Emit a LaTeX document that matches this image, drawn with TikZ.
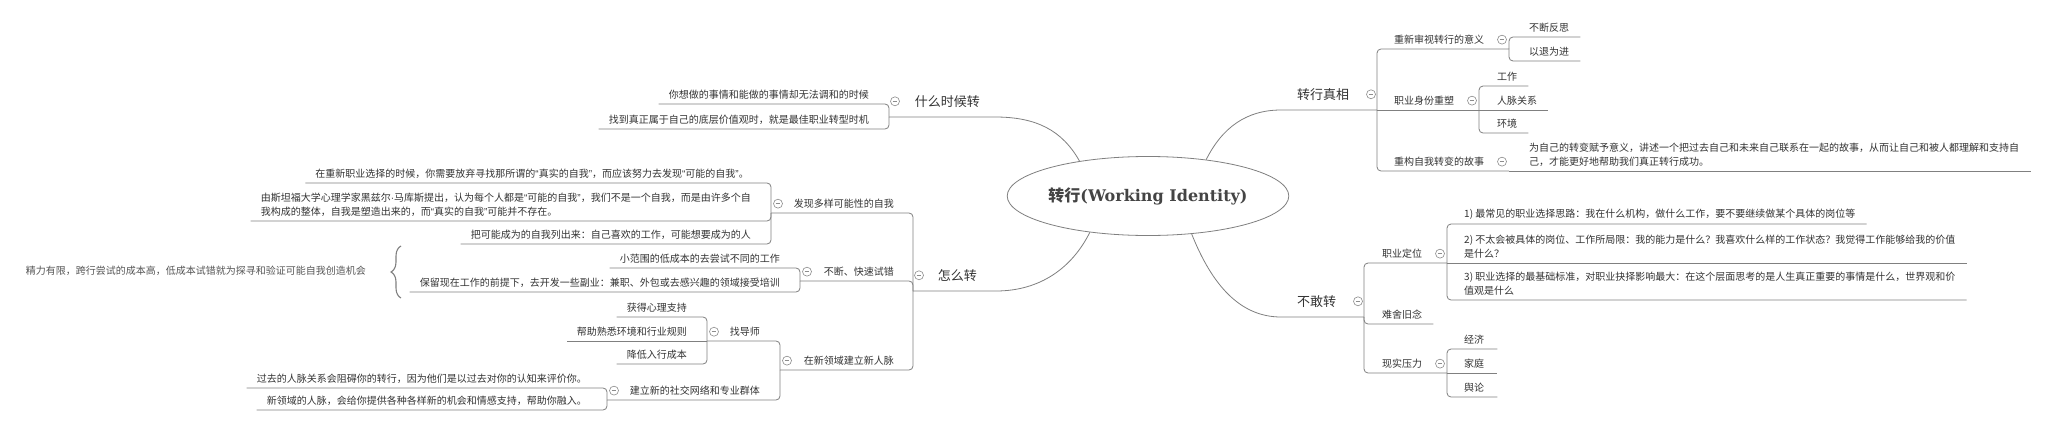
\documentclass[tikz,border=0pt]{standalone}
\usepackage{fontspec}
\setmainfont{Noto Sans CJK SC}
\newfontfamily\slab{DejaVu Serif}
\newfontfamily\latq{Liberation Sans}
\newcommand\oq{{\latq “}}
\newcommand\cq{{\latq ”}}
\newcommand\mdot{{\latq ·}}
\usetikzlibrary{shapes.geometric,decorations.pathreplacing,calc}
\definecolor{txt}{HTML}{333333}
\definecolor{ttl}{HTML}{444444}
\definecolor{lineC}{HTML}{808080}
\definecolor{iconC}{HTML}{8C8C8C}
\definecolor{noteC}{HTML}{555555}
\tikzset{
  ln/.style={draw=lineC, line width=0.8pt, rounded corners=4pt},
  cv/.style={draw=lineC, line width=0.8pt},
  t/.style={inner xsep=0pt, inner ysep=4.5pt, text=txt, font=\fontsize{10}{14}\selectfont},
  tm/.style={t, align=left},
  big/.style={inner xsep=0pt, inner ysep=9.5pt, text=txt, font=\fontsize{13}{16}\selectfont},
  icon/.style={circle, draw=iconC, fill=white, line width=0.6pt, minimum size=9pt, inner sep=0pt,
    path picture={\draw[iconC, line width=0.6pt] ([xshift=-2.3pt]path picture bounding box.center) -- ([xshift=2.3pt]path picture bounding box.center);}},
  rootnode/.style={ellipse, draw=lineC, line width=0.8pt, minimum width=272pt, minimum height=79pt, inner sep=0pt, text=ttl, font=\fontsize{16}{18}\selectfont\bfseries},
  bracestyle/.style={decorate, decoration={brace, amplitude=10pt}, draw=lineC, line width=1.1pt},
  notestyle/.style={inner sep=0pt, text=noteC, font=\fontsize{10}{14}\selectfont}
}
\newcommand\elbow[2]{\draw[ln] (#1) -- (#1 |- #2) -- (#2);}
\begin{document}
\begin{tikzpicture}[x=1pt,y=-1pt]
\useasboundingbox[fill=white] (0,0) rectangle (2046,428);

\node[rootnode] (root) at (1148,196) {转行{\slab(Working Identity)}};

% ---------- branch 1: 转行真相
\coordinate (c1) at (1281,110);
\coordinate (b1) at (1377,110);
\draw[cv] (root.32) .. controls (1222,128) and (1246,110) .. (c1) -- (b1);
\node[big, anchor=south west] (n1) at (1297,110) {转行真相};
\path (n1.center -| b1) ++(-6,0) node[icon] (i1) {};

\coordinate (b11) at (1509,49);
\node[t, anchor=south west] (n11) at (1394,49) {重新审视转行的意义};
\elbow{b1}{b11}
\path (n11.center -| b11) ++(-7,0) node[icon] (i11) {};
\node[t, anchor=south west] (n111) at (1529,37) {不断反思};
\node[t, anchor=south west] (n112) at (1529,61) {以退为进};
\coordinate (e111) at ([xshift=11pt]n111.south east);
\coordinate (e112) at ([xshift=11pt]n112.south east);
\elbow{b11}{e111}
\elbow{b11}{e112}

\coordinate (b12) at (1479,110);
\node[t, anchor=south west] (n12) at (1394,110) {职业身份重塑};
\draw[cv] (b1) -- (b12);
\path (n12.center -| b12) ++(-7,0) node[icon] (i12) {};
\node[t, anchor=south west] (n121) at (1497,86) {工作};
\node[t, anchor=south west] (n122) at (1497,110) {人脉关系};
\node[t, anchor=south west] (n123) at (1497,133) {环境};
\coordinate (e121) at ([xshift=11pt]n121.south east);
\coordinate (e123) at ([xshift=11pt]n123.south east);
\elbow{b12}{e121}
\draw[cv] (b12) -- ([xshift=11pt]n122.south east);
\elbow{b12}{e123}

\coordinate (b13) at (1509,171);
\node[t, anchor=south west] (n13) at (1394,171) {重构自我转变的故事};
\elbow{b1}{b13}
\path (n13.center -| b13) ++(-7,0) node[icon] (i13) {};
\node[tm, anchor=south west] (n131) at (1529,171) {为自己的转变赋予意义，讲述一个把过去自己和未来自己联系在一起的故事，从而让自己和被人都理解和支持自\\己，才能更好地帮助我们真正转行成功。};
\draw[cv] (b13) -- ([xshift=12pt]n131.south east);

% ---------- branch 2: 不敢转
\coordinate (c2) at (1281,317);
\coordinate (b2) at (1364,317);
\draw[cv] (root.319) .. controls (1212,285) and (1240,317) .. (c2) -- (b2);
\node[big, anchor=south west] (n2) at (1297,317) {不敢转};
\path (n2.center -| b2) ++(-6,0) node[icon] (i2) {};

\coordinate (b21) at (1447,263);
\node[t, anchor=south west] (n21) at (1382,263) {职业定位};
\elbow{b2}{b21}
\path (n21.center -| b21) ++(-7,0) node[icon] (i21) {};
\node[t, anchor=south west] (n211) at (1464,224) {1) 最常见的职业选择思路：我在什么机构，做什么工作，要不要继续做某个具体的岗位等};
\node[tm, anchor=south west] (n212) at (1464,263) {2) 不太会被具体的岗位、工作所局限：我的能力是什么？我喜欢什么样的工作状态？我觉得工作能够给我的价值\\是什么？};
\node[tm, anchor=south west] (n213) at (1464,300) {3) 职业选择的最基础标准，对职业抉择影响最大：在这个层面思考的是人生真正重要的事情是什么，世界观和价\\值观是什么};
\coordinate (e211) at ([xshift=11pt]n211.south east);
\coordinate (e213) at ([xshift=11pt]n213.south east);
\elbow{b21}{e211}
\draw[cv] (b21) -- ([xshift=11pt]n212.south east);
\elbow{b21}{e213}

\node[t, anchor=south west] (n22) at (1382,324) {难舍旧念};
\coordinate (e22) at ([xshift=11pt]n22.south east);
\elbow{b2}{e22}

\coordinate (b23) at (1447,373);
\node[t, anchor=south west] (n23) at (1382,373) {现实压力};
\elbow{b2}{b23}
\path (n23.center -| b23) ++(-7,0) node[icon] (i23) {};
\node[t, anchor=south west] (n231) at (1464,349) {经济};
\node[t, anchor=south west] (n232) at (1464,373) {家庭};
\node[t, anchor=south west] (n233) at (1464,397) {舆论};
\coordinate (e231) at ([xshift=13pt]n231.south east);
\coordinate (e233) at ([xshift=13pt]n233.south east);
\elbow{b23}{e231}
\draw[cv] (b23) -- ([xshift=13pt]n232.south east);
\elbow{b23}{e233}

% ---------- branch 3: 什么时候转
\coordinate (c3) at (995,117);
\coordinate (b3) at (889,117);
\draw[cv] (root.153) .. controls (1062,130) and (1036,117) .. (c3) -- (b3);
\node[big, anchor=south east] (n3) at (980,117) {什么时候转};
\path (n3.center -| b3) ++(6,0) node[icon] (i3) {};
\node[t, anchor=south east] (n31) at (869,104) {你想做的事情和能做的事情却无法调和的时候};
\node[t, anchor=south east] (n32) at (869,129) {找到真正属于自己的底层价值观时，就是最佳职业转型时机};
\coordinate (e31) at ([xshift=-10pt]n31.south west);
\coordinate (e32) at ([xshift=-10pt]n32.south west);
\elbow{b3}{e31}
\elbow{b3}{e32}

% ---------- branch 4: 怎么转
\coordinate (c4) at (996,291);
\coordinate (b4) at (913,291);
\draw[cv] (root.212) .. controls (1072,268) and (1040,291) .. (c4) -- (b4);
\node[big, anchor=south east] (n4) at (977,291) {怎么转};
\path (n4.center -| b4) ++(6,0) node[icon] (i4) {};

% 发现多样可能性的自我
\coordinate (b41) at (771,213);
\node[t, anchor=south east] (n41) at (894,213) {发现多样可能性的自我};
\elbow{b4}{b41}
\path (n41.center -| b41) ++(7,0) node[icon] (i41) {};
\node[t, anchor=south east] (n411) at (749,183) {在重新职业选择的时候，你需要放弃寻找那所谓的\oq 真实的自我\cq ，而应该努力去发现\oq 可能的自我\cq 。};
\node[tm, anchor=south east] (n412) at (751,221) {由斯坦福大学心理学家黑兹尔\mdot 马库斯提出，认为每个人都是\oq 可能的自我\cq ，我们不是一个自我，而是由许多个自\\我构成的整体，自我是塑造出来的，而\oq 真实的自我\cq 可能并不存在。};
\node[t, anchor=south east] (n413) at (751,244) {把可能成为的自我列出来：自己喜欢的工作，可能想要成为的人};
\coordinate (e411) at ([xshift=-10pt]n411.south west);
\coordinate (e412) at ([xshift=-10pt]n412.south west);
\coordinate (e413) at ([xshift=-10pt]n413.south west);
\elbow{b41}{e411}
\elbow{b41}{e412}
\elbow{b41}{e413}

% 不断、快速试错
\coordinate (b42) at (800,281);
\node[t, anchor=south east] (n42) at (894,281) {不断、快速试错};
\elbow{b4}{b42}
\path (n42.center -| b42) ++(7,0) node[icon] (i42) {};
\node[t, anchor=south east] (n421) at (780,268) {小范围的低成本的去尝试不同的工作};
\node[t, anchor=south east] (n422) at (780,292) {保留现在工作的前提下，去开发一些副业：兼职、外包或去感兴趣的领域接受培训};
\coordinate (e421) at ([xshift=-10pt]n421.south west);
\coordinate (e422) at ([xshift=-10pt]n422.south west);
\elbow{b42}{e421}
\elbow{b42}{e422}
\coordinate (brT) at (401,246);
\coordinate (brB) at (401,298);
\draw[bracestyle] (brB) -- (brT);
\node[notestyle, anchor=east] (note) at (366,271) {精力有限，跨行尝试的成本高，低成本试错就为探寻和验证可能自我创造机会};

% 在新领域建立新人脉
\coordinate (b43) at (780,370);
\node[t, anchor=south east] (n43) at (894,370) {在新领域建立新人脉};
\elbow{b4}{b43}
\path (n43.center -| b43) ++(7,0) node[icon] (i43) {};

\coordinate (b431) at (707,341);
\node[t, anchor=south east] (n431) at (760,341) {找导师};
\elbow{b43}{b431}
\path (n431.center -| b431) ++(7,0) node[icon] (i431) {};
\node[t, anchor=south east] (n4311) at (687,317) {获得心理支持};
\node[t, anchor=south east] (n4312) at (687,341) {帮助熟悉环境和行业规则};
\node[t, anchor=south east] (n4313) at (687,364) {降低入行成本};
\coordinate (e4311) at ([xshift=-10pt]n4311.south west);
\coordinate (e4313) at ([xshift=-10pt]n4313.south west);
\elbow{b431}{e4311}
\draw[cv] (b431) -- ([xshift=-10pt]n4312.south west);
\elbow{b431}{e4313}

\coordinate (b432) at (607,400);
\node[t, anchor=south east] (n432) at (760,400) {建立新的社交网络和专业群体};
\elbow{b43}{b432}
\path (n432.center -| b432) ++(7,0) node[icon] (i432) {};
\node[t, anchor=south east] (n4321) at (587,388) {过去的人脉关系会阻碍你的转行，因为他们是以过去对你的认知来评价你。};
\node[t, anchor=south east] (n4322) at (587,410) {新领域的人脉，会给你提供各种各样新的机会和情感支持，帮助你融入。};
\coordinate (e4321) at ([xshift=-10pt]n4321.south west);
\coordinate (e4322) at ([xshift=-10pt]n4322.south west);
\elbow{b432}{e4321}
\elbow{b432}{e4322}
\end{tikzpicture}
\end{document}
